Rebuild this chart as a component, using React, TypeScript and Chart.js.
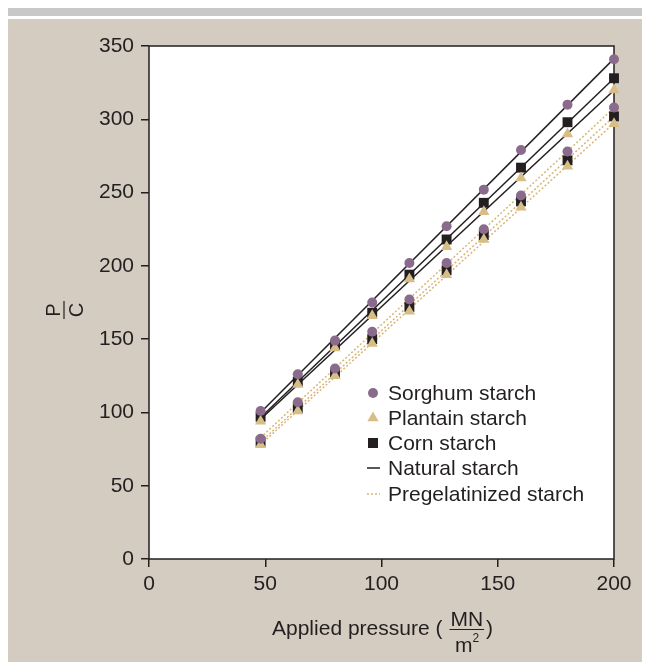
import { useEffect, useRef } from 'react';
import { Chart, registerables } from 'chart.js';

Chart.register(...registerables);

const pressures = [48, 64, 80, 96, 112, 128, 144, 160, 180, 200];
const naturalSorghum = [101, 126, 149, 175, 202, 227, 252, 279, 310, 341];
const naturalCorn = [97, 121, 146, 168, 194, 218, 243, 267, 298, 328];
const naturalPlantain = [94, 119, 144, 166, 191, 213, 237, 260, 290, 320];
const pregelSorghum = [82, 107, 130, 155, 177, 202, 225, 248, 278, 308];
const pregelCorn = [80, 103, 127, 150, 172, 197, 221, 244, 272, 302];
const pregelPlantain = [78, 101, 125, 147, 169, 194, 218, 240, 268, 297];
const xTicks = [0, 50, 100, 150, 200];
const yTicks = [0, 50, 100, 150, 200, 250, 300, 350];
const legendLabels = ['Sorghum starch', 'Plantain starch', 'Corn starch', 'Natural starch', 'Pregelatinized starch'];

const FONT = "'Liberation Sans', Arial, Helvetica, sans-serif";
const TEXT = '#231f20';
const PURPLE = '#8a6b8c';
const TAN = '#d6be86';
const DOT = '#d9b676';
const BLACK = '#231f20';

function pts(ys: number[]) {
  return ys.map((y, i) => ({ x: pressures[i], y }));
}

function fitLine(ys: number[]) {
  const n = pressures.length;
  const mx = pressures.reduce((a, b) => a + b, 0) / n;
  const my = ys.reduce((a, b) => a + b, 0) / n;
  let sxy = 0;
  let sxx = 0;
  for (let i = 0; i < n; i++) {
    sxy += (pressures[i] - mx) * (ys[i] - my);
    sxx += (pressures[i] - mx) ** 2;
  }
  const b = sxy / sxx;
  const a = my - b * mx;
  const x0 = pressures[0];
  const x1 = pressures[n - 1];
  return [{ x: x0, y: a + b * x0 }, { x: x1, y: a + b * x1 }];
}

const overlay = {
  id: 'overlay',
  beforeDraw(chart: any) {
    const { ctx, chartArea: a } = chart;
    ctx.save();
    ctx.fillStyle = '#ffffff';
    ctx.fillRect(a.left, a.top, a.right - a.left, a.bottom - a.top);
    ctx.restore();
  },
  beforeDatasetsDraw(chart: any) {
    const { ctx, chartArea: a } = chart;
    ctx.save();
    ctx.strokeStyle = BLACK;
    ctx.lineWidth = 1.5;
    ctx.strokeRect(a.left, a.top, a.right - a.left, a.bottom - a.top);
    ctx.restore();
  },
  afterDraw(chart: any) {
    const { ctx } = chart;
    ctx.save();
    ctx.fillStyle = TEXT;
    ctx.strokeStyle = TEXT;
    ctx.font = `21px ${FONT}`;
    ctx.textBaseline = 'alphabetic';
    ctx.textAlign = 'left';
    // x title
    const t1 = 'Applied pressure (';
    const tx = 264;
    ctx.fillText(t1, tx, 616);
    const w1 = ctx.measureText(t1).width;
    const fx = tx + w1 + 8;
    const mnW = ctx.measureText('MN').width;
    ctx.fillText('MN', fx, 607);
    ctx.beginPath();
    ctx.moveTo(fx - 1, 610.5);
    ctx.lineTo(fx + mnW + 1, 610.5);
    ctx.lineWidth = 1.2;
    ctx.stroke();
    const mW = ctx.measureText('m').width;
    const mx = fx + (mnW - mW - 6) / 2;
    ctx.fillText('m', mx, 633);
    ctx.font = `12px ${FONT}`;
    ctx.fillText('2', mx + mW, 623);
    ctx.font = `21px ${FONT}`;
    ctx.fillText(')', fx + mnW + 3, 616);

    // y title (rotated fraction)
    ctx.save();
    ctx.translate(56, 291);
    ctx.rotate(-Math.PI / 2);
    ctx.textAlign = 'center';
    ctx.font = `20px ${FONT}`;
    ctx.fillText('P', 0, -4);
    ctx.fillText('C', 0, 19);
    ctx.beginPath();
    ctx.moveTo(-9, 0);
    ctx.lineTo(9, 0);
    ctx.lineWidth = 1.2;
    ctx.stroke();
    ctx.restore();

    // legend
    const lx = 365;
    const textX = 380;
    const rows = [374, 399, 424, 449, 475];
    ctx.textAlign = 'left';
    ctx.textBaseline = 'middle';
    ctx.font = `21px ${FONT}`;
    legendLabels.forEach((label, i) => {
      const y = rows[i];
      ctx.fillStyle = TEXT;
      ctx.fillText(label, textX, y + 1);
      if (i === 0) {
        ctx.fillStyle = PURPLE;
        ctx.beginPath();
        ctx.arc(lx, y, 5, 0, Math.PI * 2);
        ctx.fill();
      } else if (i === 1) {
        ctx.fillStyle = TAN;
        const r = 6.5;
        ctx.beginPath();
        ctx.moveTo(lx, y - r);
        ctx.lineTo(lx + r * 0.866, y + r / 2);
        ctx.lineTo(lx - r * 0.866, y + r / 2);
        ctx.closePath();
        ctx.fill();
      } else if (i === 2) {
        ctx.fillStyle = BLACK;
        ctx.fillRect(lx - 5, y - 5, 10, 10);
      } else if (i === 3) {
        ctx.strokeStyle = BLACK;
        ctx.lineWidth = 1.5;
        ctx.beginPath();
        ctx.moveTo(lx - 6, y);
        ctx.lineTo(lx + 7, y);
        ctx.stroke();
      } else {
        ctx.strokeStyle = DOT;
        ctx.lineWidth = 1.5;
        ctx.setLineDash([2, 2]);
        ctx.beginPath();
        ctx.moveTo(lx - 6, y);
        ctx.lineTo(lx + 7, y);
        ctx.stroke();
        ctx.setLineDash([]);
      }
    });
    ctx.restore();
  },
};

export default function App() {
  const ref = useRef<HTMLCanvasElement | null>(null);

  useEffect(() => {
    document.documentElement.style.overflow = 'hidden';
    if (!ref.current) return;
    const marker = (data: any, style: string, color: string, radius: number, order: number) => ({
      data,
      showLine: false,
      pointStyle: style,
      pointRadius: radius,
      pointBackgroundColor: color,
      pointBorderColor: color,
      pointBorderWidth: 0,
      clip: false,
      order,
    });
    const line = (ys: number[], color: string, dash: number[]) => ({
      data: fitLine(ys),
      showLine: true,
      pointRadius: 0,
      borderColor: color,
      borderWidth: 1.5,
      borderDash: dash,
      order: 10,
    });
    const chart = new Chart(ref.current, {
      type: 'scatter',
      data: {
        datasets: [
          line(naturalSorghum, BLACK, []),
          line(naturalCorn, BLACK, []),
          line(naturalPlantain, BLACK, []),
          line(pregelSorghum, DOT, [2, 2]),
          line(pregelCorn, DOT, [2, 2]),
          line(pregelPlantain, DOT, [2, 2]),
          marker(pts(naturalCorn), 'rect', BLACK, 7, 3),
          marker(pts(pregelCorn), 'rect', BLACK, 7, 3),
          marker(pts(naturalPlantain), 'triangle', TAN, 6.5, 2),
          marker(pts(pregelPlantain), 'triangle', TAN, 6.5, 2),
          marker(pts(naturalSorghum), 'circle', PURPLE, 5, 1),
          marker(pts(pregelSorghum), 'circle', PURPLE, 5, 1),
        ] as any,
      },
      options: {
        animation: false,
        responsive: false,
        devicePixelRatio: 1,
        layout: { padding: { top: 27, right: 36, left: 0, bottom: 0 } },
        plugins: { legend: { display: false }, tooltip: { enabled: false } },
        scales: {
          x: {
            type: 'linear',
            min: 0,
            max: 200,
            afterBuildTicks: (s: any) => {
              s.ticks = xTicks.map((v) => ({ value: v }));
            },
            afterFit: (s: any) => {
              s.height = 103;
            },
            ticks: { font: { family: FONT, size: 21 }, color: TEXT, padding: 5, maxRotation: 0 },
            grid: { drawOnChartArea: false, drawTicks: true, tickLength: 8, color: BLACK, lineWidth: 1.5 },
            border: { display: false },
          },
          y: {
            type: 'linear',
            min: 0,
            max: 350,
            afterBuildTicks: (s: any) => {
              s.ticks = yTicks.map((v) => ({ value: v }));
            },
            afterFit: (s: any) => {
              s.width = 141;
            },
            ticks: { font: { family: FONT, size: 21 }, color: TEXT, padding: 7 },
            grid: { drawOnChartArea: false, drawTicks: true, tickLength: 8, color: BLACK, lineWidth: 1.5 },
            border: { display: false },
          },
        },
      } as any,
      plugins: [overlay],
    });
    return () => chart.destroy();
  }, []);

  return (
    <div style={{ width: 642 }}>
      <div style={{ height: 8, background: '#c8c8c8' }} />
      <div style={{ height: 3 }} />
      <div style={{ width: 642, height: 643, background: '#d4ccc1' }}>
        <canvas ref={ref} width={642} height={643} style={{ display: 'block', width: 642, height: 643 }} />
      </div>
    </div>
  );
}
